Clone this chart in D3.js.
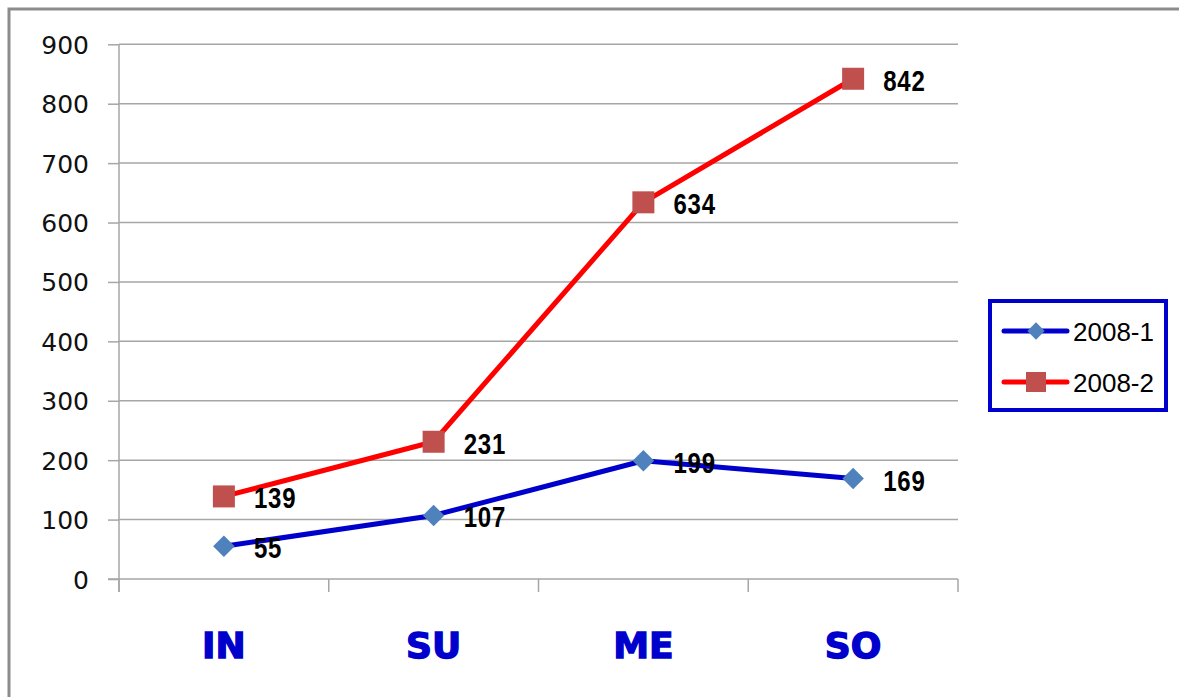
<!DOCTYPE html>
<html lang="en">
<head>
  <meta charset="UTF-8">
  <title>2008-1 / 2008-2</title>
  <style>
    body { margin: 0; background: #fff; }
    svg { display: block; }
  </style>
</head>
<body>
  <script src="https://d3js.org/d3.v7.min.js"></script>
  <script>
    // data
    const categories = ["IN", "SU", "ME", "SO"];
    const series1 = [55, 107, 199, 169];   // 2008-1
    const series2 = [139, 231, 634, 842];  // 2008-2
    const seriesNames = ["2008-1", "2008-2"];
    const yTicks = [0, 100, 200, 300, 400, 500, 600, 700, 800, 900];

    const svgWidth = 1179, svgHeight = 697;
    const plot = { left: 119, right: 958, top: 44.3, bottom: 579 };

    const svg = d3.select("body").append("svg")
      .attr("width", svgWidth)
      .attr("height", svgHeight);

    // outer frame (runs off right/bottom edge)
    svg.append("rect")
      .attr("x", 9).attr("y", 9)
      .attr("width", 1300).attr("height", 800)
      .attr("fill", "none")
      .attr("stroke", "#8c8c8c")
      .attr("stroke-width", 3);

    const xScale = d3.scaleBand()
      .domain(categories)
      .range([plot.left, plot.right])
      .padding(0);

    const yScale = d3.scaleLinear()
      .domain([0, 900])
      .range([plot.bottom, plot.top]);

    // gridlines
    svg.append("g")
      .selectAll("line")
      .data(yTicks.filter(d => d > 0))
      .join("line")
      .attr("x1", plot.left).attr("x2", plot.right)
      .attr("y1", d => yScale(d)).attr("y2", d => yScale(d))
      .attr("stroke", "#a6a6a6")
      .attr("stroke-width", 1.5);

    // y axis
    const yAxis = svg.append("g")
      .attr("transform", `translate(${plot.left},0)`)
      .call(d3.axisLeft(yScale).tickValues(yTicks).tickSize(11).tickPadding(19));
    yAxis.select(".domain").attr("stroke", "#a6a6a6").attr("stroke-width", 1.5)
      .attr("d", `M0,${plot.top}V${plot.bottom + 13}`);
    yAxis.selectAll(".tick line").attr("stroke", "#a6a6a6").attr("stroke-width", 1.5);
    yAxis.selectAll(".tick text")
      .attr("fill", "#111")
      .attr("dy", "0.36em")
      .style("font-family", "DejaVu Sans, sans-serif")
      .style("font-size", "25px");

    // x axis
    const xAxis = svg.append("g")
      .attr("transform", `translate(0,${plot.bottom})`);
    xAxis.append("line")
      .attr("x1", plot.left - 11).attr("x2", plot.right)
      .attr("stroke", "#a6a6a6").attr("stroke-width", 1.5);
    const bounds = categories.map(c => xScale(c)).concat([xScale.range()[1]]);
    xAxis.selectAll("line.tk")
      .data(bounds)
      .join("line")
      .attr("class", "tk")
      .attr("x1", d => d).attr("x2", d => d)
      .attr("y1", 0).attr("y2", 13)
      .attr("stroke", "#a6a6a6").attr("stroke-width", 1.5);
    xAxis.selectAll("text")
      .data(categories)
      .join("text")
      .attr("x", d => xScale(d) + xScale.bandwidth() / 2)
      .attr("y", 79)
      .attr("text-anchor", "middle")
      .attr("fill", "#0000cc")
      .attr("stroke", "#0000cc")
      .attr("stroke-width", 1.4)
      .style("font-family", "DejaVu Sans, sans-serif")
      .style("font-weight", "bold")
      .style("font-size", "36px")
      .text(d => d);

    const cx = (d, i) => xScale(categories[i]) + xScale.bandwidth() / 2;
    const line = d3.line().x((d, i) => cx(d, i)).y(d => yScale(d));

    // series lines
    svg.append("path").datum(series1)
      .attr("d", line).attr("fill", "none")
      .attr("stroke", "#0000cc").attr("stroke-width", 5)
      .attr("stroke-linejoin", "round");
    svg.append("path").datum(series2)
      .attr("d", line).attr("fill", "none")
      .attr("stroke", "#ff0000").attr("stroke-width", 5)
      .attr("stroke-linejoin", "round");

    // markers
    const diamond = d3.symbol().type(d3.symbolSquare).size(230);
    svg.append("g").selectAll("path")
      .data(series1)
      .join("path")
      .attr("d", diamond)
      .attr("transform", (d, i) => `translate(${cx(d, i)},${yScale(d)}) rotate(45)`)
      .attr("fill", "#4f81bd");
    svg.append("g").selectAll("rect")
      .data(series2)
      .join("rect")
      .attr("x", (d, i) => cx(d, i) - 11)
      .attr("y", d => yScale(d) - 11)
      .attr("width", 22).attr("height", 22)
      .attr("fill", "#c0504d");

    // data labels (narrow bold look via horizontal squeeze)
    function labels(data) {
      svg.append("g").selectAll("text")
        .data(data)
        .join("text")
        .attr("transform", (d, i) => `translate(${cx(d, i) + 30},${yScale(d) + 12}) scale(0.8,1)`)
        .attr("fill", "#000")
        .style("font-family", "'Liberation Sans', Arial, sans-serif")
        .style("font-weight", "bold")
        .style("font-size", "30px")
        .style("letter-spacing", "1px")
        .text(d => d);
    }
    labels(series1);
    labels(series2);

    // legend
    const legend = svg.append("g").attr("transform", "translate(990,301)");
    legend.append("rect")
      .attr("width", 176).attr("height", 109)
      .attr("fill", "#fff")
      .attr("stroke", "#0000cc").attr("stroke-width", 4);
    const legendItems = [
      { name: seriesNames[0], color: "#0000cc", marker: "diamond", y: 30 },
      { name: seriesNames[1], color: "#ff0000", marker: "square", y: 81 }
    ];
    legendItems.forEach(item => {
      legend.append("line")
        .attr("x1", 14).attr("x2", 77)
        .attr("y1", item.y).attr("y2", item.y)
        .attr("stroke", item.color).attr("stroke-width", 5)
        .attr("stroke-linecap", "round");
      if (item.marker === "diamond") {
        legend.append("path")
          .attr("d", d3.symbol().type(d3.symbolSquare).size(150)())
          .attr("transform", `translate(46,${item.y}) rotate(45)`)
          .attr("fill", "#4f81bd");
      } else {
        legend.append("rect")
          .attr("x", 36).attr("y", item.y - 10)
          .attr("width", 20).attr("height", 20)
          .attr("fill", "#c0504d");
      }
      legend.append("text")
        .attr("x", 83).attr("y", item.y + 10)
        .attr("fill", "#000")
        .style("font-family", "'Liberation Sans', Arial, sans-serif")
        .style("font-size", "26px")
        .text(item.name);
    });
  </script>
</body>
</html>
